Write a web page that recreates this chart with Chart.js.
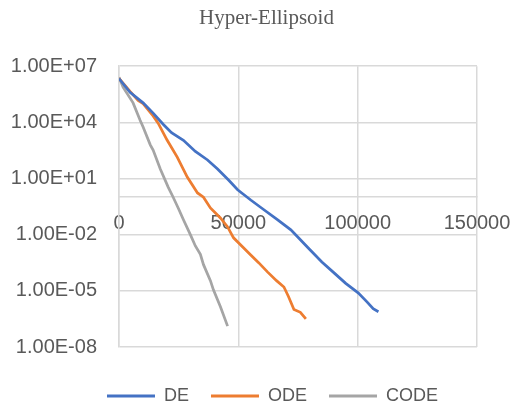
<!DOCTYPE html>
<html>
<head>
<meta charset="utf-8">
<script src="https://cdn.jsdelivr.net/npm/chart.js@4"></script>
<style>
  body { margin: 0; background: #fff; }
  #wrap { width: 513px; height: 410px; }
</style>
</head>
<body>
<div id="wrap"><canvas id="grafico" width="513" height="410"></canvas></div>
<script>
// datos
const seriesNames = ['DE', 'ODE', 'CODE'];
const seriesColors = ['#4472C4', '#ED7D31', '#A5A5A5'];

const xDE = [0, 4630, 10100, 14300, 18500, 22000, 27000, 32000, 37100, 41300, 45900, 49700, 55200, 60000, 66500, 72000, 75500, 79200, 85000, 90100, 95000, 100200, 104000, 106500, 108700];
const yDE = [2.2e6, 4.0e5, 1.1e5, 3.1e4, 7.9e3, 2.8e3, 1.1e3, 280, 98, 32, 8.3, 2.5, 0.71, 0.25, 0.062, 0.018, 6.3e-3, 2.0e-3, 3.5e-4, 9.1e-5, 2.5e-5, 7.8e-6, 2.5e-6, 1.1e-6, 7.6e-7];

const xODE = [0, 4630, 8000, 10100, 14300, 16400, 20200, 24400, 28600, 32900, 35400, 38300, 42500, 45500, 48000, 51000, 55200, 58500, 62300, 66000, 69100, 71000, 73300, 76000, 78300];
const yODE = [2.2e6, 4.5e5, 1.5e5, 1.0e5, 2.2e4, 9.1e3, 1.1e3, 140, 12, 1.7, 1.0, 0.27, 0.078, 0.026, 6.8e-3, 2.8e-3, 8.3e-4, 3.2e-4, 1.0e-4, 3.5e-5, 1.6e-5, 5.0e-6, 1.0e-6, 7.1e-7, 3.2e-7];

const xCODE = [0, 1700, 5900, 8850, 10100, 13100, 14300, 17300, 20600, 22700, 24900, 27000, 29900, 32000, 34100, 35400, 38300, 39600, 42500, 45500];
const yCODE = [2.6e6, 7.6e5, 1.1e5, 1.3e4, 5.6e3, 630, 330, 32, 3.5, 1.0, 0.25, 0.063, 0.01, 2.5e-3, 8.9e-4, 2.5e-4, 3.5e-5, 1.1e-5, 1.4e-6, 1.3e-7];

const yTickValues = [1e-8, 1e-5, 1e-2, 1e1, 1e4, 1e7];
const yTickLabels = ['1.00E-08', '1.00E-05', '1.00E-02', '1.00E+01', '1.00E+04', '1.00E+07'];
const xTickValues = [0, 50000, 100000, 150000];

function puntos(xs, ys) {
  return xs.map((x, i) => ({ x: x, y: ys[i] }));
}

const seriesData = [puntos(xDE, yDE), puntos(xODE, yODE), puntos(xCODE, yCODE)];

const gris = '#595959';
const lineaGrid = '#d9d9d9';

// mueve titulo y leyenda un poco a la derecha, como en el original
const desplazar = {
  id: 'desplazar',
  afterLayout(chart) {
    if (chart.titleBlock) { chart.titleBlock.left += 28; chart.titleBlock.right += 28; }
    if (chart.legend) { chart.legend.left += 34; chart.legend.right += 34; }
  }
};

new Chart(document.getElementById('grafico'), {
  type: 'line',
  data: {
    datasets: seriesNames.map((nombre, i) => ({
      label: nombre,
      data: seriesData[i],
      borderColor: seriesColors[i],
      backgroundColor: seriesColors[i],
      borderWidth: 2.75,
      pointRadius: 0,
      tension: 0,
      fill: false
    }))
  },
  plugins: [desplazar],
  options: {
    responsive: false,
    animation: false,
    devicePixelRatio: 1,
    layout: { padding: { left: 0, right: 36, top: 0, bottom: -5 } },
    plugins: {
      title: {
        display: true,
        text: 'Hyper-Ellipsoid',
        color: gris,
        font: { family: 'Liberation Serif', size: 21, weight: 'normal' },
        padding: { top: 6, bottom: 35 }
      },
      // espacio entre el grafico y la leyenda
      subtitle: {
        display: true,
        position: 'bottom',
        weight: 500,
        text: '',
        font: { size: 10 },
        padding: { top: 6, bottom: 0 }
      },
      legend: {
        position: 'bottom',
        weight: 1000,
        labels: {
          color: gris,
          font: { family: 'Liberation Sans', size: 18 },
          boxWidth: 48,
          boxHeight: 3,
          padding: 22,
          generateLabels: (chart) => {
            const items = Chart.defaults.plugins.legend.labels.generateLabels(chart);
            items.forEach(it => { it.lineWidth = 0; });
            return items;
          }
        }
      },
      tooltip: { enabled: false }
    },
    scales: {
      x: {
        type: 'linear',
        position: { y: 1 },
        min: 0,
        max: 150000,
        afterBuildTicks: (scale) => {
          scale.ticks = xTickValues.map(v => ({ value: v }));
        },
        afterFit: (scale) => { scale.paddingLeft = 0; scale.paddingRight = 0; },
        ticks: {
          color: gris,
          font: { family: 'Liberation Sans', size: 20 },
          padding: 14,
          maxRotation: 0,
          callback: (v) => String(v)
        },
        grid: { color: lineaGrid, lineWidth: 1.5, drawTicks: false },
        border: { color: lineaGrid, width: 1.5 }
      },
      y: {
        type: 'logarithmic',
        min: 1e-8,
        max: 1e7,
        afterBuildTicks: (scale) => {
          scale.ticks = yTickValues.map(v => ({ value: v }));
        },
        afterFit: (scale) => { scale.width = 119; },
        ticks: {
          color: gris,
          font: { family: 'Liberation Sans', size: 20 },
          padding: 22,
          callback: (v, i) => yTickLabels[i]
        },
        grid: { color: lineaGrid, lineWidth: 1.5, drawTicks: false },
        border: { color: lineaGrid, width: 1.5 }
      }
    }
  }
});
</script>
</body>
</html>
